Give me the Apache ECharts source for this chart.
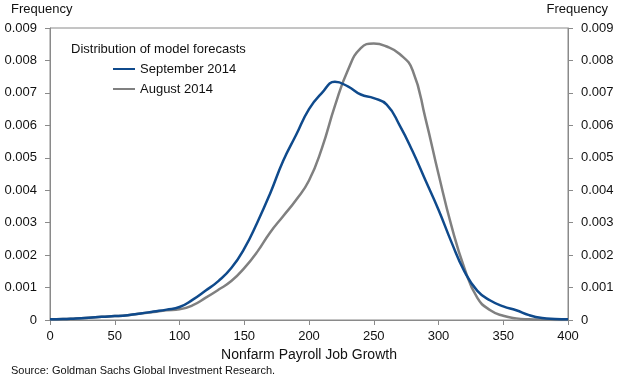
<!DOCTYPE html>
<html>
<head>
<meta charset="utf-8">
<script src="https://cdn.jsdelivr.net/npm/echarts@6/dist/echarts.min.js"></script>
<style>html,body{margin:0;padding:0;background:#fff}#c{width:622px;height:382px}</style>
</head>
<body>
<div id="c"></div>
<script>
var xValues = [0,10,20,30,40,50,60,70,80,90,100,110,120,130,140,150,160,170,180,190,200,210,220,230,240,250,260,270,280,290,300,310,320,330,340,350,360,370,380,390,400];
var september2014 = [0.00002,0.00003,0.00005,0.00007,0.0001,0.00012,0.00015,0.0002,0.00026,0.00032,0.0004,0.00062,0.0009,0.0012,0.0016,0.0022,0.0030,0.0039,0.0049,0.0057,0.0065,0.0070,0.00734,0.0072,0.00695,0.00684,0.00664,0.0060,0.0052,0.0043,0.0034,0.0024,0.0015,0.0009,0.0006,0.00042,0.0003,0.00015,0.00006,0.00003,0.00002];
var august2014 = [0.00002,0.00003,0.00005,0.00007,0.0001,0.00012,0.00015,0.0002,0.00025,0.0003,0.00033,0.00045,0.00068,0.00093,0.0012,0.0016,0.0021,0.0027,0.0032,0.0037,0.0043,0.0053,0.0066,0.0077,0.00838,0.00852,0.00843,0.0082,0.0077,0.0062,0.0045,0.0029,0.0016,0.00068,0.0003,0.00013,0.00005,0.00002,0.00001,0,0];
var seriesNames = ['September 2014','August 2014'];
var legendTitle = 'Distribution of model forecasts';
var xAxisTitle = 'Nonfarm Payroll Job Growth';
var yAxisTitle = 'Frequency';
var sourceText = 'Source: Goldman Sachs Global Investment Research.';

function pairs(xs, ys){ return xs.map(function(x,i){ return [x, ys[i]]; }); }
var font = 'Liberation Sans, Arial, sans-serif';
var axisGray = '#8a8a8a';
function yFmt(v){ return Math.abs(v) < 1e-12 ? '0' : v.toFixed(3); }

var chart = echarts.init(document.getElementById('c'), null, {renderer:'canvas'});
var yCommon = {
  type:'value', min:0, max:0.009, interval:0.001,
  axisLine:{show:true, lineStyle:{color:axisGray, width:1}},
  axisTick:{show:true, length:5, lineStyle:{color:axisGray}},
  splitLine:{show:false},
  axisLabel:{formatter:yFmt, color:'#111', fontSize:13, fontFamily:font, margin:13}
};
chart.setOption({
  animation:false,
  backgroundColor:'#fff',
  textStyle:{fontFamily:font},
  title:{text:legendTitle, left:66, top:38, textStyle:{fontSize:13, fontWeight:'normal', color:'#111', fontFamily:font}},
  legend:{
    orient:'vertical', left:108, top:57, itemGap:6,
    icon:'rect', itemWidth:22, itemHeight:2,
    textStyle:{fontSize:13, color:'#111', fontFamily:font, lineHeight:14},
    data:seriesNames
  },
  grid:{left:50, right:54, top:28, bottom:62, show:true, borderColor:axisGray, borderWidth:1},
  xAxis:{
    type:'value', min:0, max:400, interval:50,
    axisLine:{show:true, lineStyle:{color:axisGray}},
    axisTick:{show:true, length:5, lineStyle:{color:axisGray}},
    splitLine:{show:false},
    axisLabel:{color:'#111', fontSize:13, fontFamily:font, margin:10},
    name:xAxisTitle, nameLocation:'middle', nameGap:28,
    nameTextStyle:{color:'#111', fontSize:14, fontFamily:font}
  },
  yAxis:[
    Object.assign({position:'left'}, yCommon),
    Object.assign({position:'right'}, yCommon)
  ],
  graphic:[
    {type:'text', left:11, top:3, style:{text:yAxisTitle, fontSize:13, fontFamily:font, fill:'#111'}},
    {type:'text', right:14, top:3, style:{text:yAxisTitle, fontSize:13, fontFamily:font, fill:'#111'}},
    {type:'text', left:11, top:365, style:{text:sourceText, fontSize:11, fontFamily:font, fill:'#111'}}
  ],
  series:[
    {name:seriesNames[0], type:'line', smooth:0.5, showSymbol:false, data:pairs(xValues, september2014),
     lineStyle:{color:'#0f4a8c', width:2.5}, itemStyle:{color:'#0f4a8c'}, z:3},
    {name:seriesNames[1], type:'line', smooth:0.5, showSymbol:false, data:pairs(xValues, august2014),
     lineStyle:{color:'#808080', width:2.5}, itemStyle:{color:'#808080'}, z:2}
  ]
});
</script>
</body>
</html>
